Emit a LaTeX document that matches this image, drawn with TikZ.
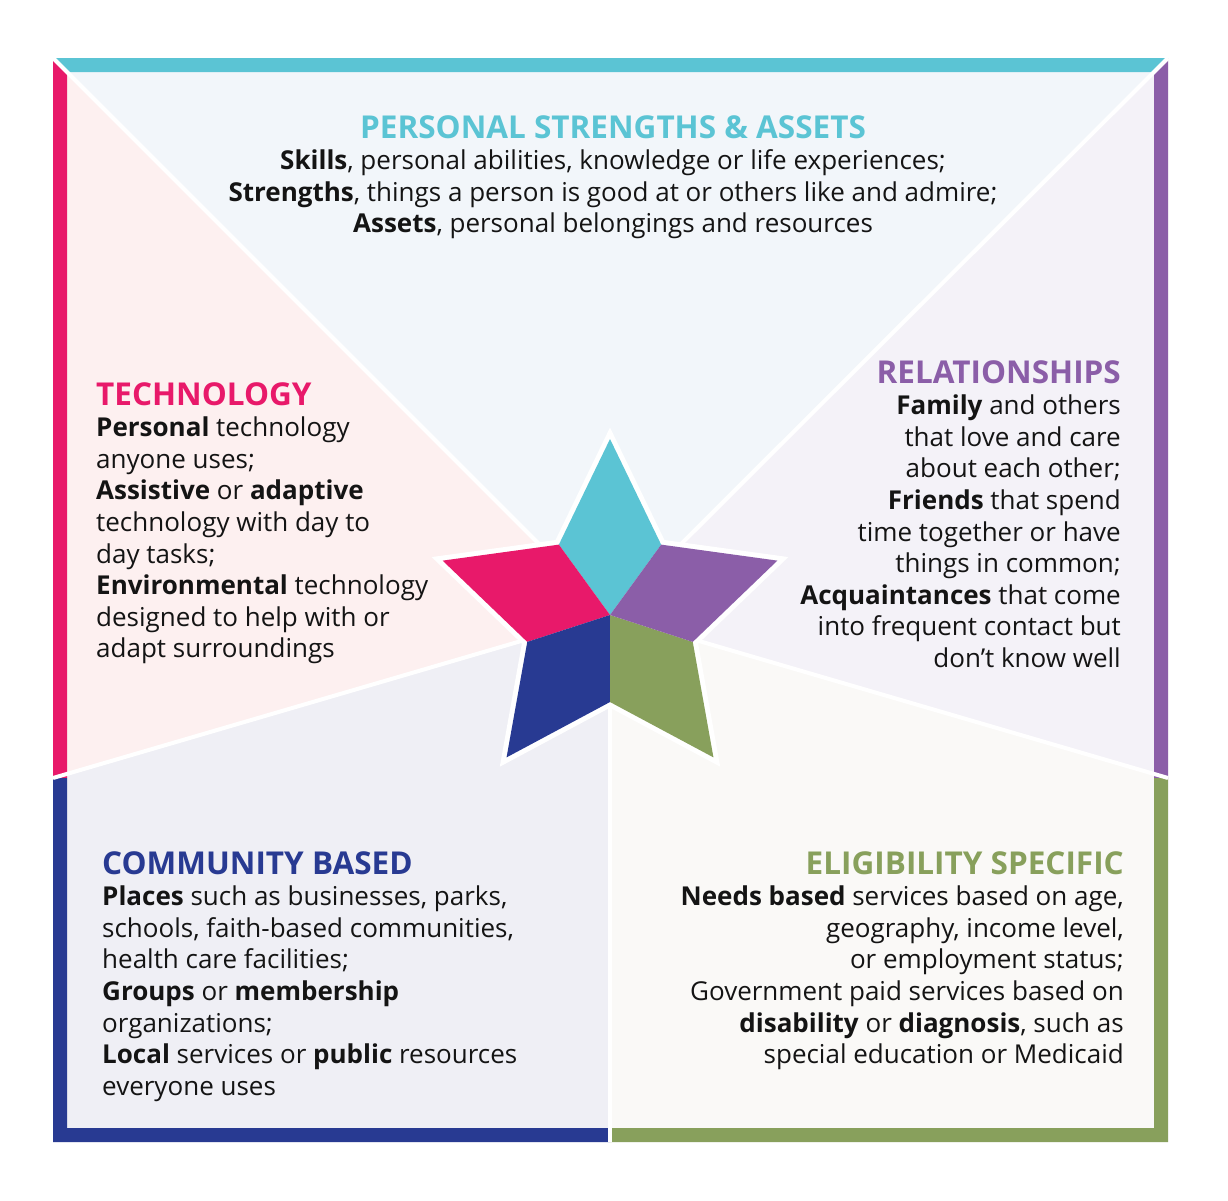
\documentclass[tikz,border=0pt]{standalone}
\usepackage{fontspec}
\setmainfont{Open Sans}
\usepackage{tikz}
\usetikzlibrary{positioning}

\definecolor{strengthTeal}{HTML}{5BC4D4}
\definecolor{techPink}{HTML}{E8196A}
\definecolor{relPurple}{HTML}{8B5EA8}
\definecolor{commNavy}{HTML}{283A92}
\definecolor{eligGreen}{HTML}{88A05C}
\definecolor{strengthBg}{HTML}{F2F6FA}
\definecolor{techBg}{HTML}{FDF0F0}
\definecolor{relBg}{HTML}{F4F2F8}
\definecolor{commBg}{HTML}{EFEFF5}
\definecolor{eligBg}{HTML}{FAF9F7}
\definecolor{bodyBlack}{HTML}{141414}

\tikzstyle{separator} = [white, line width=4pt]
\tikzstyle{bodytext} = [inner sep=0pt, font=\fontsize{26}{31.6}\selectfont, text=bodyBlack]
\newcommand{\heading}[2]{{\fontsize{31.5}{31.6}\selectfont\bfseries\color{#1}#2}}

\begin{document}
\begin{tikzpicture}[x=1pt,y=-1pt]
\useasboundingbox (0,0) rectangle (1228,1200);

%Coordinates
\coordinate (center) at (610,615);
\coordinate (tl) at (53,58);
\coordinate (tr) at (1168,58);
\coordinate (bl) at (53,1142);
\coordinate (br) at (1168,1142);
\coordinate (lsplit) at (53,778);
\coordinate (rsplit) at (1168,778);
\coordinate (bsplit) at (610,1142);

%Regions
\fill[strengthBg] (center) -- (tl) -- (tr) -- cycle;
\fill[techBg] (center) -- (tl) -- (lsplit) -- cycle;
\fill[relBg] (center) -- (tr) -- (rsplit) -- cycle;
\fill[commBg] (center) -- (lsplit) -- (bl) -- (bsplit) -- cycle;
\fill[eligBg] (center) -- (rsplit) -- (br) -- (bsplit) -- cycle;

%Borders
\fill[strengthTeal] (tl) -- (tr) -- (1154,72) -- (67,72) -- cycle;
\fill[techPink] (tl) -- (67,72) -- (67,778) -- (lsplit) -- cycle;
\fill[relPurple] (tr) -- (rsplit) -- (1154,778) -- (1154,72) -- cycle;
\fill[commNavy] (lsplit) -- (67,778) -- (67,1128) -- (610,1128) -- (bsplit) -- (bl) -- cycle;
\fill[eligGreen] (rsplit) -- (br) -- (bsplit) -- (610,1128) -- (1154,1128) -- (1154,778) -- cycle;

%Separators
\foreach \corner in {tl,tr,lsplit,rsplit,bsplit}
  \draw[separator] (center) -- (\corner);

%Star
\begin{scope}[shift={(center)}]
  \filldraw[white, line width=10pt, line join=miter]
    (-90:176) -- (-126:87) -- (-162:176) -- (-198:87) -- (-234:176) -- (-270:87)
    -- (-306:176) -- (-342:87) -- (-18:176) -- (-54:87) -- cycle;
  \foreach \a/\col in {90/strengthTeal,162/techPink,234/commNavy,306/eligGreen,18/relPurple}
    \fill[\col] (0,0) -- (-\a-36:87) -- (-\a:176) -- (-\a+36:87) -- cycle;
\end{scope}

%Text
\node[bodytext, anchor=north, align=center] (strengths) at (613,115)
  {\heading{strengthTeal}{PERSONAL STRENGTHS \& ASSETS}\\
   \textbf{Skills}, personal abilities, knowledge or life experiences;\\
   \textbf{Strengths}, things a person is good at or others like and admire;\\
   \textbf{Assets}, personal belongings and resources};

\node[bodytext, anchor=north west, align=left] (technology) at (96,382)
  {\heading{techPink}{TECHNOLOGY}\\
   \textbf{Personal} technology\\
   anyone uses;\\
   \textbf{Assistive} or \textbf{adaptive}\\
   technology with day to\\
   day tasks;\\
   \textbf{Environmental} technology\\
   designed to help with or\\
   adapt surroundings};

\node[bodytext, anchor=north east, align=right] (relationships) at (1121,360)
  {\heading{relPurple}{RELATIONSHIPS}\\
   \textbf{Family} and others\\
   that love and care\\
   about each other;\\
   \textbf{Friends} that spend\\
   time together or have\\
   things in common;\\
   \textbf{Acquaintances} that come\\
   into frequent contact but\\
   don’t know well};

\node[bodytext, anchor=north west, align=left] (community) at (102,851)
  {\heading{commNavy}{COMMUNITY BASED}\\
   \textbf{Places} such as businesses, parks,\\
   schools, faith-based communities,\\
   health care facilities;\\
   \textbf{Groups} or \textbf{membership}\\
   organizations;\\
   \textbf{Local} services or \textbf{public} resources\\
   everyone uses};

\node[bodytext, anchor=north east, align=right] (eligibility) at (1124,851)
  {\heading{eligGreen}{ELIGIBILITY SPECIFIC}\\
   \textbf{Needs based} services based on age,\\
   geography, income level,\\
   or employment status;\\
   Government paid services based on\\
   \textbf{disability} or \textbf{diagnosis}, such as\\
   special education or Medicaid};

\end{tikzpicture}
\end{document}
